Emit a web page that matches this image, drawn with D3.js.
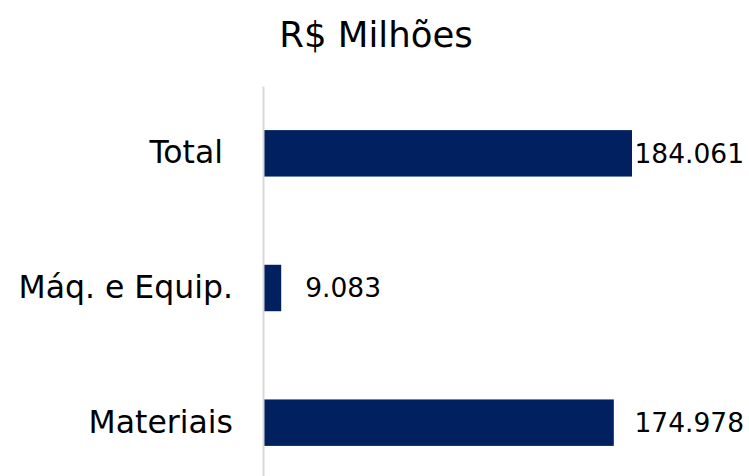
<!DOCTYPE html>
<html>
<head>
<meta charset="utf-8">
<script src="https://cdn.jsdelivr.net/npm/d3@7"></script>
<style>
  body { margin: 0; background: #fff; }
  svg { display: block; font-family: "DejaVu Sans", sans-serif; }
</style>
</head>
<body>
<svg id="chart" width="749" height="476"></svg>
<script>
const title = "R$ Milhões";
const categories = ["Total\u00a0", "Máq. e Equip.", "Materiais"];
const values = [184061, 9083, 174978];
const valueLabels = ["184.061", "9.083", "174.978"];

const svg = d3.select("#chart");
const w = +svg.attr("width");
const h = +svg.attr("height");

const pL = 263;
const barColor = "#002060";

const xScale = d3.scaleLinear()
    .domain([0, d3.max(values)])
    .range([pL, 632]);

const yScale = d3.scaleBand()
    .domain(categories)
    .range([86, 490])
    .paddingInner(0.655)
    .paddingOuter(0.3275);

// title
svg.append("text")
    .attr("x", 376)
    .attr("y", 47)
    .attr("text-anchor", "middle")
    .attr("font-size", 35.5)
    .attr("fill", "#000")
    .text(title);

// bars
svg.selectAll("rect.bar")
    .data(values)
    .enter()
    .append("rect")
    .attr("class", "bar")
    .attr("x", xScale(0))
    .attr("y", (d, i) => yScale(categories[i]))
    .attr("width", d => xScale(d) - xScale(0))
    .attr("height", yScale.bandwidth())
    .attr("fill", barColor);

// category axis
const yAxis = d3.axisLeft(yScale).tickSize(0).tickPadding(30);
const gy = svg.append("g")
    .attr("transform", "translate(" + pL + ",0)")
    .call(yAxis);
gy.select(".domain")
    .attr("stroke", "#d9d9d9")
    .attr("stroke-width", 2);
gy.selectAll("text")
    .attr("font-size", 31.5)
    .attr("font-family", "DejaVu Sans, sans-serif")
    .attr("fill", "#000");

// value labels, pushed back inside when they would overflow
svg.selectAll("text.val")
    .data(values)
    .enter()
    .append("text")
    .attr("class", "val")
    .attr("y", (d, i) => yScale(categories[i]) + yScale.bandwidth() / 2)
    .attr("dy", "0.35em")
    .attr("font-size", 26.5)
    .attr("fill", "#000")
    .text((d, i) => valueLabels[i])
    .attr("x", function (d) {
        const tw = this.getComputedTextLength();
        return Math.min(xScale(d) + 24, w - 5 - tw);
    });
</script>
</body>
</html>
